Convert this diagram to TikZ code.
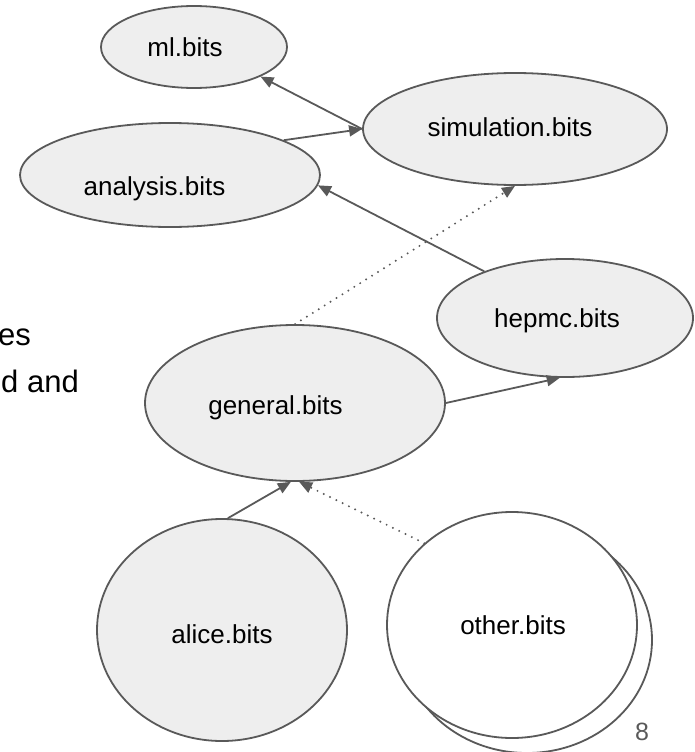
\documentclass[tikz,border=0pt]{standalone}
\usepackage{fontspec}
\setmainfont{Liberation Sans}
\usetikzlibrary{shapes.geometric,arrows.meta}
\definecolor{edgegray}{HTML}{595959}
\definecolor{nodefill}{HTML}{EEEEEE}
\begin{document}
\begin{tikzpicture}[x=1pt,y=-1pt,
  bub/.style={ellipse,draw=edgegray,fill=nodefill,line width=1.8pt,inner sep=0pt},
  lbl/.style={anchor=base,font=\fontsize{26}{31}\selectfont,text=black,inner sep=0pt},
  side/.style={anchor=base east,font=\fontsize{31}{37}\selectfont,text=black,inner sep=0pt},
  conn/.style={draw=edgegray,line width=1.8pt,-{Triangle[length=13pt,width=11pt]}},
  dotconn/.style={conn,line width=2.2pt,line cap=round,dash pattern=on 0pt off 7pt,-{Triangle[length=13pt,width=11pt]}},
]
\useasboundingbox (0,0) rectangle (694,752);
\begin{scope}
\clip (0,0) rectangle (694,752);
% nodes
\node[bub,minimum width=186pt,minimum height=82pt] (ml) at (194,47) {};
\node[bub,minimum width=304pt,minimum height=112pt] (sim) at (515,129) {};
\node[bub,minimum width=300pt,minimum height=104pt] (an) at (170,175) {};
\node[bub,minimum width=256pt,minimum height=118pt] (hep) at (565,318) {};
\node[bub,minimum width=300pt,minimum height=156pt] (gen) at (295,403) {};
\node[bub,minimum width=250pt,minimum height=222pt] (alice) at (222,630) {};
\node[bub,fill=white,minimum width=250pt,minimum height=226pt] (othb) at (527,640) {};
\node[bub,fill=white,minimum width=250pt,minimum height=226pt] (oth) at (512,625) {};
% labels
\node[lbl] (mlt) at (185,57) {ml.bits};
\node[lbl] (simt) at (510,136) {simulation.bits};
\node[lbl] (ant) at (154.5,195) {analysis.bits};
\node[lbl] (hept) at (557,327) {hepmc.bits};
\node[lbl] (gent) at (275.5,414) {general.bits};
\node[lbl] (alicet) at (222,643) {alice.bits};
\node[lbl] (otht) at (513,634) {other.bits};
\node[lbl,text=edgegray,font=\fontsize{25}{30}\selectfont] (pg) at (642,740) {8};
\node[side] (s1) at (31,345) {es};
\node[side] (s2) at (79,392) {d and};
% connectors
\draw[conn] (sim.180) -- (ml.-24);
\draw[conn] (an.17) -- (sim.180);
\draw[conn] (hep.150) -- (an.-4);
\draw[dotconn] (gen.90) -- (sim.270);
\draw[conn] (gen.0) -- (hep.265);
\draw[conn] (alice.87) -- (gen.267);
\draw[dotconn] (oth.137) -- (gen.273);
\end{scope}
\end{tikzpicture}
\end{document}
